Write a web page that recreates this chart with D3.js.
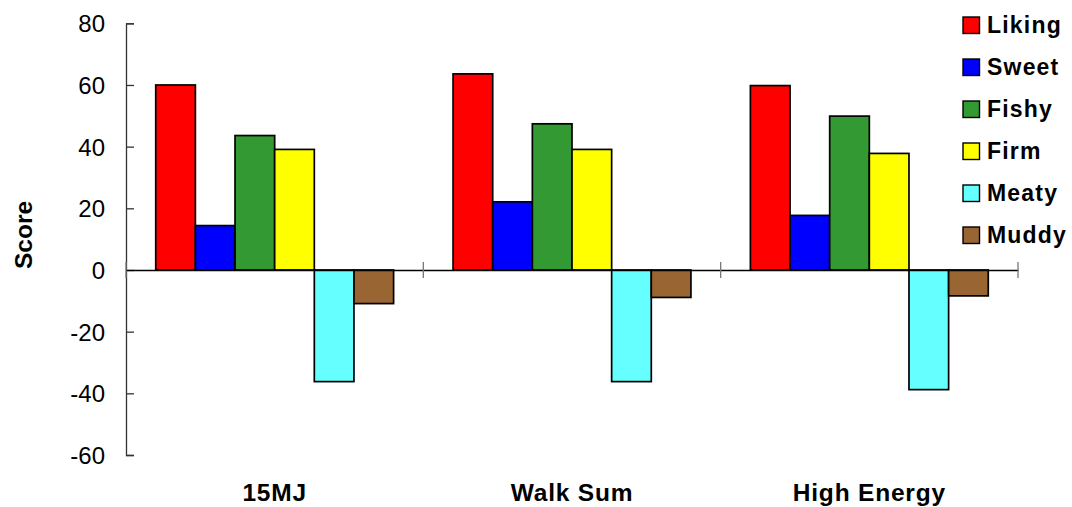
<!DOCTYPE html>
<html>
<head>
<meta charset="utf-8">
<script src="https://cdn.jsdelivr.net/npm/d3@7"></script>
<style>
  html, body { margin: 0; padding: 0; background: #fff; }
  svg { display: block; font-family: "Liberation Sans", Arial, sans-serif; }
</style>
</head>
<body>
<svg id="chart" width="1072" height="507"></svg>
<script>
// Sensory scores per product
const groups = ["15MJ", "Walk Sum", "High Energy"];
const attributes = ["Liking", "Sweet", "Fishy", "Firm", "Meaty", "Muddy"];
const colors = ["#ff0000", "#0000ff", "#339933", "#ffff00", "#66ffff", "#996633"];
const liking = [60, 63.6, 59.8];
const sweet  = [14.4, 22.1, 17.7];
const fishy  = [43.6, 47.4, 49.9];
const firm   = [39.1, 39.1, 37.8];
const meaty  = [-36.2, -36.2, -38.8];
const muddy  = [-10.9, -8.9, -8.4];
const yTicks = [80, 60, 40, 20, 0, -20, -40, -60];

const seriesValues = [liking, sweet, fishy, firm, meaty, muddy];
const rows = groups.map((g, gi) => ({
  group: g,
  values: attributes.map((a, ai) => ({ key: a, value: seriesValues[ai][gi], color: colors[ai] }))
}));

const svg = d3.select("#chart");
const plotLeft = 126, plotRight = 1018, plotTop = 23.3, plotBottom = 455;

const y = d3.scaleLinear().domain([-60, 80]).range([plotBottom, plotTop]);
const x0 = d3.scaleBand().domain(groups).range([plotLeft, plotRight]).padding(0);
const x1 = d3.scaleBand().domain(attributes)
  .range([x0.bandwidth() * 0.1, x0.bandwidth() * 0.9]).padding(0);

// Bars
const barLayer = svg.append("g");
barLayer.selectAll("g.grp").data(rows).join("g")
  .attr("class", "grp")
  .attr("transform", d => `translate(${x0(d.group)},0)`)
  .selectAll("rect").data(d => d.values).join("rect")
  .attr("x", d => x1(d.key))
  .attr("width", x1.bandwidth())
  .attr("y", d => y(Math.max(0, d.value)))
  .attr("height", d => Math.abs(y(d.value) - y(0)))
  .attr("fill", d => d.color)
  .attr("stroke", "#000")
  .attr("stroke-width", 1.7);

// Y axis
const yAxis = d3.axisRight(y).tickValues(yTicks).tickSize(8).tickFormat(d => String(d));
const ya = svg.append("g").attr("transform", `translate(${plotLeft},0)`).call(yAxis);
ya.select(".domain").attr("stroke", "#333").attr("stroke-width", 1.3);
ya.selectAll(".tick line").attr("stroke", "#333").attr("stroke-width", 1.3);
ya.selectAll(".tick text")
  .attr("x", -21).attr("dy", "0.36em")
  .attr("text-anchor", "end")
  .attr("font-size", 24).attr("fill", "#000");

// Zero line with group separators
const xAxis = d3.axisBottom(x0).tickSize(0).tickFormat("");
const xa = svg.append("g").attr("transform", `translate(0,${y(0)})`).call(xAxis);
xa.select(".domain").attr("stroke", "#000").attr("stroke-width", 1.3);
xa.selectAll(".tick").remove();
const bounds = [plotLeft].concat(groups.map(gr => x0(gr) + x0.bandwidth()));
xa.selectAll("line.sep").data(bounds).join("line")
  .attr("class", "sep")
  .attr("x1", d => d).attr("x2", d => d)
  .attr("y1", -8).attr("y2", 8)
  .attr("stroke", "#777").attr("stroke-width", 1.3);

// Category labels
svg.append("g").selectAll("text").data(groups).join("text")
  .attr("x", d => x0(d) + x0.bandwidth() / 2)
  .attr("y", 501)
  .attr("text-anchor", "middle")
  .attr("font-size", 24.5).attr("font-weight", "bold")
  .attr("letter-spacing", 0.8)
  .text(d => d);

// Y axis title
svg.append("text")
  .attr("transform", "translate(32,235) rotate(-90)")
  .attr("text-anchor", "middle")
  .attr("font-size", 24.5).attr("font-weight", "bold")
  .text("Score");

// Legend
const legend = svg.append("g").attr("transform", "translate(963,25)");
const item = legend.selectAll("g").data(attributes).join("g")
  .attr("transform", (d, i) => `translate(0,${i * 42})`);
item.append("rect")
  .attr("x", 0).attr("y", -8).attr("width", 16.5).attr("height", 16.5)
  .attr("fill", (d, i) => colors[i])
  .attr("stroke", "#000").attr("stroke-width", 1.4);
item.append("text")
  .attr("x", 24).attr("y", 0).attr("dy", "0.36em")
  .attr("font-size", 23).attr("font-weight", "bold")
  .attr("letter-spacing", 1.2)
  .text(d => d);
</script>
</body>
</html>
